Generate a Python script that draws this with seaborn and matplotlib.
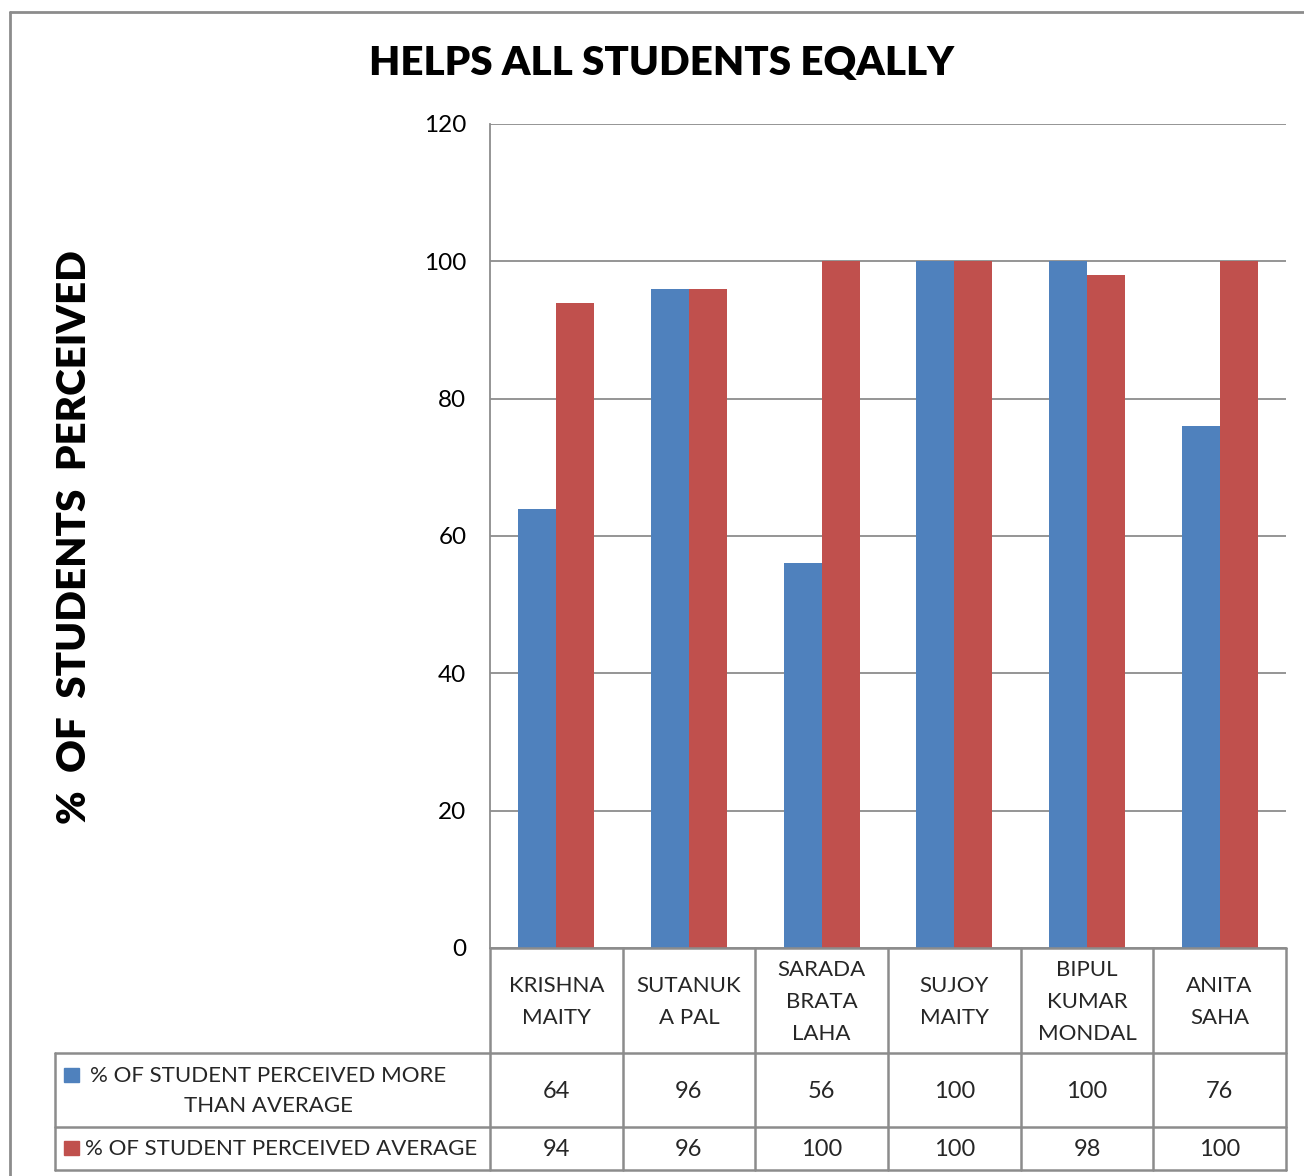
import numpy as np
import matplotlib.pyplot as plt
import matplotlib.transforms as mtransforms
from matplotlib.lines import Line2D
from matplotlib.patches import Rectangle
import seaborn as sns
import pandas as pd

# Chart data
teachers = ['KRISHNA\nMAITY', 'SUTANUK\nA PAL', 'SARADA\nBRATA\nLAHA',
            'SUJOY\nMAITY', 'BIPUL\nKUMAR\nMONDAL', 'ANITA\nSAHA']
more_than_avg = [64, 96, 56, 100, 100, 76]
average = [94, 96, 100, 100, 98, 100]
series_names = ['% OF STUDENT PERCEIVED MORE\nTHAN AVERAGE',
                '% OF STUDENT PERCEIVED AVERAGE']
colors = ['#4F81BD', '#C0504D']
y_ticks = [0, 20, 40, 60, 80, 100, 120]

df = pd.DataFrame({
    'teacher': teachers * 2,
    'value': more_than_avg + average,
    'series': [series_names[0]] * len(teachers) + [series_names[1]] * len(teachers),
})

sns.set_theme(style='white')
plt.rcParams['font.family'] = ['Lato', 'DejaVu Sans']

W, H = 1304, 1176
fig = plt.figure(figsize=(W / 100, H / 100), dpi=100)


def fx(x):
    return x / W


def fy(y):
    return 1 - y / H


grid_c = '#8C8C8C'
fs = 16
ax = fig.add_axes([fx(490), fy(948), fx(1286) - fx(490), fy(124) - fy(948)])
sns.barplot(data=df, x='teacher', y='value', hue='series', palette=colors,
            width=0.575, linewidth=0, ax=ax, legend=False, saturation=1)
ax.set_ylim(0, 120)
ax.set_yticks(y_ticks)
ax.set_yticklabels([str(t) for t in y_ticks], fontsize=17.5)
ax.set_xlim(-0.5, len(teachers) - 0.5)
ax.set_xticks([])
ax.set_xlabel('')
ax.set_ylabel('')
ax.yaxis.grid(True, color=grid_c, linewidth=1.3)
ax.set_axisbelow(True)
for s in ['top', 'right', 'bottom']:
    ax.spines[s].set_visible(False)
ax.spines['left'].set_color(grid_c)
ax.spines['left'].set_linewidth(1.3)
ax.tick_params(axis='y', length=0, pad=17, colors='black')

# data table under the axes
trans = mtransforms.blended_transform_factory(ax.transData, fig.transFigure)
row_y = [948, 1053, 1127, 1170]
lw = 1.8


def hline(x0, x1, y):
    fig.add_artist(Line2D([fx(x0), fx(x1)], [fy(y), fy(y)], color=grid_c, lw=lw))


def vline(x, y0, y1):
    fig.add_artist(Line2D([fx(x), fx(x)], [fy(y0), fy(y1)], color=grid_c, lw=lw))


hline(490, 1286, row_y[0])
for y in row_y[1:]:
    hline(55, 1286, y)
vline(55, row_y[1], row_y[3])
for i in range(len(teachers) + 1):
    xd = i - 0.5
    xpix = ax.transData.transform((xd, 0))[0]
    vline(xpix, row_y[0], row_y[3])

for i, name in enumerate(teachers):
    ax.text(i, fy((row_y[0] + row_y[1]) / 2 + 2), name, transform=trans,
            ha='center', va='center', fontsize=fs, linespacing=1.75)
for vals, (y0, y1) in zip([more_than_avg, average],
                          [(row_y[1], row_y[2]), (row_y[2], row_y[3])]):
    for i, v in enumerate(vals):
        ax.text(i, fy((y0 + y1) / 2 + 1), str(v), transform=trans,
                ha='center', va='center', fontsize=17)

# legend keys inside the table
fig.add_artist(Rectangle((fx(64), fy(1082)), fx(15), fy(1068) - fy(1082),
                         color=colors[0], transform=fig.transFigure))
fig.text(fx(268), fy(1091), series_names[0], ha='center', va='center',
         fontsize=fs, linespacing=1.6)
fig.add_artist(Rectangle((fx(64), fy(1155)), fx(15), fy(1141) - fy(1155),
                         color=colors[1], transform=fig.transFigure))
fig.text(fx(85), fy(1149), series_names[1], ha='left', va='center', fontsize=fs)

# frame, title, axis label
fig.add_artist(Line2D([fx(10), fx(1304)], [fy(12), fy(12)], color='#8C8C8C', lw=2))
fig.add_artist(Line2D([fx(10), fx(10)], [fy(12), fy(1176)], color='#8C8C8C', lw=2))
fig.text(fx(662), fy(63), 'HELPS ALL STUDENTS EQALLY', ha='center', va='center',
         fontsize=29, fontweight='heavy', color='black')
fig.text(fx(75), fy(537), '%  OF  STUDENTS  PERCEIVED', ha='center', va='center',
         rotation=90, fontsize=29, fontweight='heavy', color='black')

fig.savefig('out.png', dpi=100, facecolor='white')
